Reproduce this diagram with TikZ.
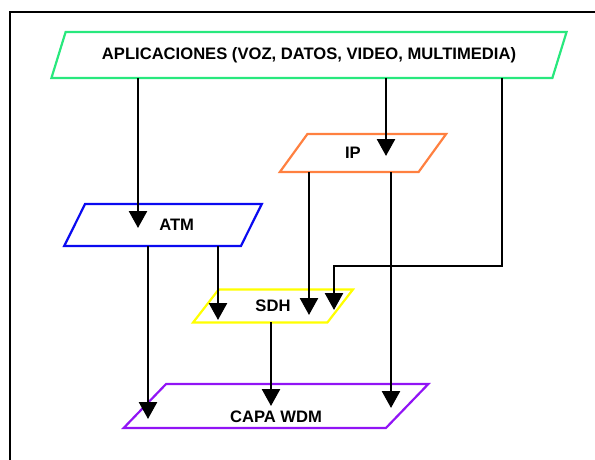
\documentclass[tikz,border=0pt]{standalone}
\usepackage{fontspec}
\setmainfont{Liberation Sans}
\usetikzlibrary{shapes.geometric,arrows.meta}
\definecolor{verde}{RGB}{40,232,125}
\definecolor{naranja}{RGB}{255,128,64}
\definecolor{azul}{RGB}{10,10,240}
\definecolor{amarillo}{RGB}{255,255,0}
\definecolor{morado}{RGB}{145,20,245}
\begin{document}
\begin{tikzpicture}[x=1pt,y=-1pt,
  capa/.style={trapezium,draw,line width=2.2pt,trapezium stretches=true,inner sep=0pt,font=\fontsize{16.6}{18}\selectfont\bfseries},
  flecha/.style={line width=2.6pt,-{Triangle[width=18pt,length=17pt]}}]
% Capas de red
\useasboundingbox (0,0) rectangle (595,460);
\draw[line width=2.5pt] (10,460) -- (10,12) -- (595,12);
\node[capa,draw=verde,minimum width=517pt,minimum height=46pt,trapezium left angle=52,trapezium right angle=128] (apl) at (309,55) {APLICACIONES (VOZ, DATOS, VIDEO, MULTIMEDIA)};
\node[capa,draw=naranja,minimum width=167pt,minimum height=38pt,trapezium left angle=52,trapezium right angle=128,text width=36pt,align=left] (ip) at (363,153) {IP};
\node[capa,draw=azul,minimum width=198pt,minimum height=42pt,trapezium left angle=54,trapezium right angle=126,text width=62pt,align=right] (atm) at (163,225) {ATM};
\node[capa,draw=amarillo,minimum width=160pt,minimum height=33pt,trapezium left angle=55,trapezium right angle=125] (sdh) at (273,306) {SDH};
\node[capa,draw=morado,minimum width=305pt,minimum height=44pt,trapezium left angle=61,trapezium right angle=119,text height=32pt,text depth=0pt] (wdm) at (276,406) {CAPA WDM};
\draw[flecha] ([shift={(-171,23)}]apl.center) -- ([shift={(-25,3)}]atm.center);
\draw[flecha] ([shift={(77,23)}]apl.center) -- ([shift={(23,3)}]ip.center);
\draw[flecha] ([shift={(193,23)}]apl.center) -- ++(0,188) -| ([shift={(61,4)}]sdh.center);
\draw[flecha] ([shift={(-15,21)}]atm.center) -- ([shift={(-128,13)}]wdm.center);
\draw[flecha] ([shift={(55,21)}]atm.center) -- ([shift={(-55,14)}]sdh.center);
\draw[flecha] ([shift={(-54,19)}]ip.center) -- ([shift={(36,9)}]sdh.center);
\draw[flecha] ([shift={(28,19)}]ip.center) -- ([shift={(115,2)}]wdm.center);
\draw[flecha] ([shift={(-2,16)}]sdh.center) -- ([shift={(-5,0)}]wdm.center);
\end{tikzpicture}
\end{document}
